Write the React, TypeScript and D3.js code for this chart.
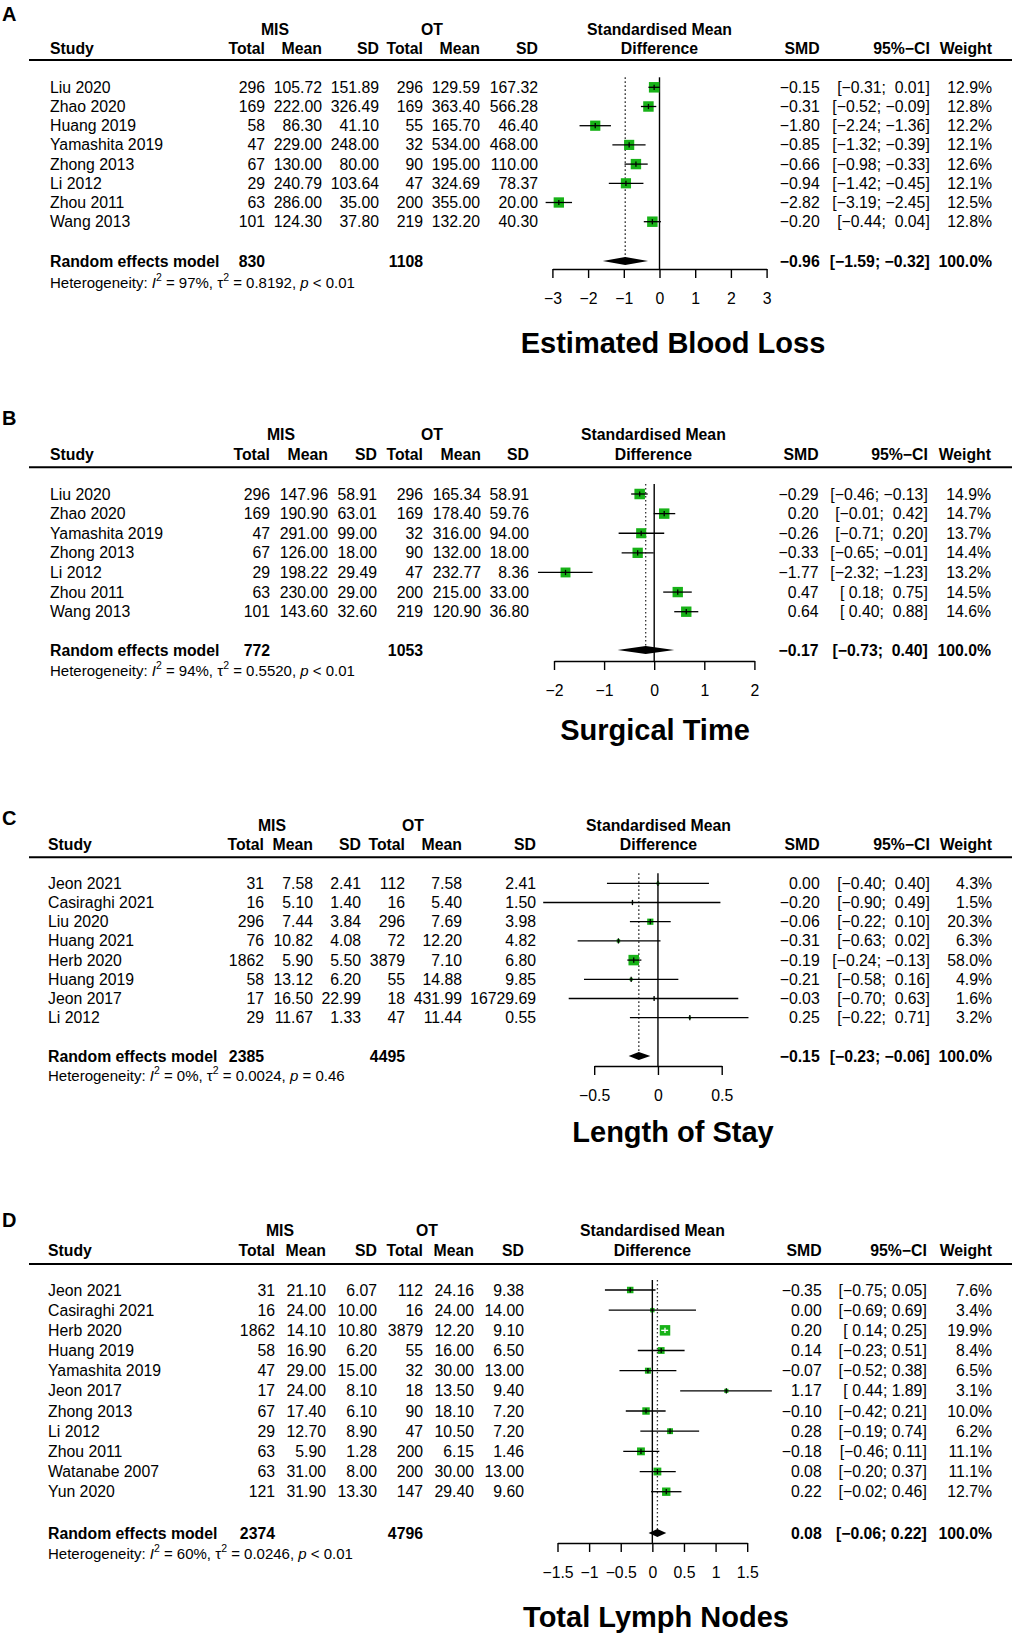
import React, { useRef, useEffect } from "react";
import * as d3 from "d3";

const fontFamily = "'Liberation Sans', Arial, Helvetica, sans-serif";
const fontSize = 15.8; // table text
const hetSize = 15; // heterogeneity line
const titleSize = 29; // panel title under the axis
const squareColor = "#17b217";
const maxSquare = 10.5; // side of the largest square, px

// ---------- A: Estimated Blood Loss ----------
const eblStudy = ["Liu 2020", "Zhao 2020", "Huang 2019", "Yamashita 2019", "Zhong 2013", "Li 2012", "Zhou 2011", "Wang 2013"];
const eblMisTotal = [296, 169, 58, 47, 67, 29, 63, 101];
const eblMisMean = [105.72, 222.0, 86.3, 229.0, 130.0, 240.79, 286.0, 124.3];
const eblMisSd = [151.89, 326.49, 41.1, 248.0, 80.0, 103.64, 35.0, 37.8];
const eblOtTotal = [296, 169, 55, 32, 90, 47, 200, 219];
const eblOtMean = [129.59, 363.4, 165.7, 534.0, 195.0, 324.69, 355.0, 132.2];
const eblOtSd = [167.32, 566.28, 46.4, 468.0, 110.0, 78.37, 20.0, 40.3];
const eblSmd = [-0.15, -0.31, -1.8, -0.85, -0.66, -0.94, -2.82, -0.2];
const eblLower = [-0.31, -0.52, -2.24, -1.32, -0.98, -1.42, -3.19, -0.44];
const eblUpper = [0.01, -0.09, -1.36, -0.39, -0.33, -0.45, -2.45, 0.04];
const eblWeight = [12.9, 12.8, 12.2, 12.1, 12.6, 12.1, 12.5, 12.8];
const eblPooled: [number, number, number] = [-0.96, -1.59, -0.32];
const eblTotals: [number, number] = [830, 1108];
const eblTicks = [-3, -2, -1, 0, 1, 2, 3];

// ---------- B: Surgical Time ----------
const stStudy = ["Liu 2020", "Zhao 2020", "Yamashita 2019", "Zhong 2013", "Li 2012", "Zhou 2011", "Wang 2013"];
const stMisTotal = [296, 169, 47, 67, 29, 63, 101];
const stMisMean = [147.96, 190.9, 291.0, 126.0, 198.22, 230.0, 143.6];
const stMisSd = [58.91, 63.01, 99.0, 18.0, 29.49, 29.0, 32.6];
const stOtTotal = [296, 169, 32, 90, 47, 200, 219];
const stOtMean = [165.34, 178.4, 316.0, 132.0, 232.77, 215.0, 120.9];
const stOtSd = [58.91, 59.76, 94.0, 18.0, 8.36, 33.0, 36.8];
const stSmd = [-0.29, 0.2, -0.26, -0.33, -1.77, 0.47, 0.64];
const stLower = [-0.46, -0.01, -0.71, -0.65, -2.32, 0.18, 0.4];
const stUpper = [-0.13, 0.42, 0.2, -0.01, -1.23, 0.75, 0.88];
const stWeight = [14.9, 14.7, 13.7, 14.4, 13.2, 14.5, 14.6];
const stPooled: [number, number, number] = [-0.17, -0.73, 0.4];
const stTotals: [number, number] = [772, 1053];
const stTicks = [-2, -1, 0, 1, 2];

// ---------- C: Length of Stay ----------
const losStudy = ["Jeon 2021", "Casiraghi 2021", "Liu 2020", "Huang 2021", "Herb 2020", "Huang 2019", "Jeon 2017", "Li 2012"];
const losMisTotal = [31, 16, 296, 76, 1862, 58, 17, 29];
const losMisMean = [7.58, 5.1, 7.44, 10.82, 5.9, 13.12, 16.5, 11.67];
const losMisSd = [2.41, 1.4, 3.84, 4.08, 5.5, 6.2, 22.99, 1.33];
const losOtTotal = [112, 16, 296, 72, 3879, 55, 18, 47];
const losOtMean = [7.58, 5.4, 7.69, 12.2, 7.1, 14.88, 431.99, 11.44];
const losOtSd = [2.41, 1.5, 3.98, 4.82, 6.8, 9.85, 16729.69, 0.55];
const losSmd = [0.0, -0.2, -0.06, -0.31, -0.19, -0.21, -0.03, 0.25];
const losLower = [-0.4, -0.9, -0.22, -0.63, -0.24, -0.58, -0.7, -0.22];
const losUpper = [0.4, 0.49, 0.1, 0.02, -0.13, 0.16, 0.63, 0.71];
const losWeight = [4.3, 1.5, 20.3, 6.3, 58.0, 4.9, 1.6, 3.2];
const losPooled: [number, number, number] = [-0.15, -0.23, -0.06];
const losTotals: [number, number] = [2385, 4495];
const losTicks = [-0.5, 0, 0.5];

// ---------- D: Total Lymph Nodes ----------
const tlnStudy = ["Jeon 2021", "Casiraghi 2021", "Herb 2020", "Huang 2019", "Yamashita 2019", "Jeon 2017", "Zhong 2013", "Li 2012", "Zhou 2011", "Watanabe 2007", "Yun 2020"];
const tlnMisTotal = [31, 16, 1862, 58, 47, 17, 67, 29, 63, 63, 121];
const tlnMisMean = [21.1, 24.0, 14.1, 16.9, 29.0, 24.0, 17.4, 12.7, 5.9, 31.0, 31.9];
const tlnMisSd = [6.07, 10.0, 10.8, 6.2, 15.0, 8.1, 6.1, 8.9, 1.28, 8.0, 13.3];
const tlnOtTotal = [112, 16, 3879, 55, 32, 18, 90, 47, 200, 200, 147];
const tlnOtMean = [24.16, 24.0, 12.2, 16.0, 30.0, 13.5, 18.1, 10.5, 6.15, 30.0, 29.4];
const tlnOtSd = [9.38, 14.0, 9.1, 6.5, 13.0, 9.4, 7.2, 7.2, 1.46, 13.0, 9.6];
const tlnSmd = [-0.35, 0.0, 0.2, 0.14, -0.07, 1.17, -0.1, 0.28, -0.18, 0.08, 0.22];
const tlnLower = [-0.75, -0.69, 0.14, -0.23, -0.52, 0.44, -0.42, -0.19, -0.46, -0.2, -0.02];
const tlnUpper = [0.05, 0.69, 0.25, 0.51, 0.38, 1.89, 0.21, 0.74, 0.11, 0.37, 0.46];
const tlnWeight = [7.6, 3.4, 19.9, 8.4, 6.5, 3.1, 10.0, 6.2, 11.1, 11.1, 12.7];
const tlnPooled: [number, number, number] = [0.08, -0.06, 0.22];
const tlnTotals: [number, number] = [2374, 4796];
const tlnTicks = [-1.5, -1, -0.5, 0, 0.5, 1, 1.5];

interface PanelData {
  title: string;
  study: string[];
  cols: number[][]; // misTotal, misMean, misSd, otTotal, otMean, otSd
  smd: number[];
  lower: number[];
  upper: number[];
  weight: number[];
  pooled: [number, number, number];
  totals: [number, number];
  het: [string, string, string]; // I2, tau2, p-part
  domain: [number, number];
  ticks: number[];
}

interface PanelLayout {
  label: string;
  labelY: number;
  head1Y: number;
  head2Y: number;
  lineY: number;
  firstRowY: number;
  lastRowY: number;
  pooledY: number;
  hetY: number;
  axisY: number;
  titleX: number;
  titleY: number;
  studyX: number;
  colX: number[];
  misX: number;
  otX: number;
  diffX: number;
  smdX: number;
  ciX: number;
  weightX: number;
  xRange: [number, number];
}

const panels: { d: PanelData; l: PanelLayout }[] = [
  {
    d: {
      title: "Estimated Blood Loss", study: eblStudy,
      cols: [eblMisTotal, eblMisMean, eblMisSd, eblOtTotal, eblOtMean, eblOtSd],
      smd: eblSmd, lower: eblLower, upper: eblUpper, weight: eblWeight,
      pooled: eblPooled, totals: eblTotals, het: ["97%", "0.8192", "< 0.01"],
      domain: [-3, 3], ticks: eblTicks,
    },
    l: {
      label: "A", labelY: 21, head1Y: 29, head2Y: 48.5, lineY: 60, firstRowY: 87.3, lastRowY: 221.7,
      pooledY: 261, hetY: 282, axisY: 269, titleX: 673, titleY: 343, studyX: 50,
      colX: [265, 322, 379, 423, 480, 538], misX: 275, otX: 432, diffX: 659.5, smdX: 819.7, ciX: 929.8, weightX: 992,
      xRange: [552.4, 766.6],
    },
  },
  {
    d: {
      title: "Surgical Time", study: stStudy,
      cols: [stMisTotal, stMisMean, stMisSd, stOtTotal, stOtMean, stOtSd],
      smd: stSmd, lower: stLower, upper: stUpper, weight: stWeight,
      pooled: stPooled, totals: stTotals, het: ["94%", "0.5520", "< 0.01"],
      domain: [-2, 2], ticks: stTicks,
    },
    l: {
      label: "B", labelY: 425, head1Y: 434.3, head2Y: 454, lineY: 467.3, firstRowY: 494, lastRowY: 611.7,
      pooledY: 650, hetY: 670, axisY: 661, titleX: 655, titleY: 730, studyX: 50,
      colX: [270, 328, 377, 423, 481, 529], misX: 281, otX: 432, diffX: 653.4, smdX: 818.6, ciX: 927.8, weightX: 991,
      xRange: [554, 754.4],
    },
  },
  {
    d: {
      title: "Length of Stay", study: losStudy,
      cols: [losMisTotal, losMisMean, losMisSd, losOtTotal, losOtMean, losOtSd],
      smd: losSmd, lower: losLower, upper: losUpper, weight: losWeight,
      pooled: losPooled, totals: losTotals, het: ["0%", "0.0024", "= 0.46"],
      domain: [-0.5, 0.5], ticks: losTicks,
    },
    l: {
      label: "C", labelY: 825, head1Y: 825, head2Y: 844, lineY: 857.3, firstRowY: 883.3, lastRowY: 1017.7,
      pooledY: 1056, hetY: 1075, axisY: 1066, titleX: 673, titleY: 1132, studyX: 48,
      colX: [264, 313, 361, 405, 462, 536], misX: 272, otX: 413, diffX: 658.5, smdX: 819.7, ciX: 929.8, weightX: 992,
      xRange: [594.2, 721.7],
    },
  },
  {
    d: {
      title: "Total Lymph Nodes", study: tlnStudy,
      cols: [tlnMisTotal, tlnMisMean, tlnMisSd, tlnOtTotal, tlnOtMean, tlnOtSd],
      smd: tlnSmd, lower: tlnLower, upper: tlnUpper, weight: tlnWeight,
      pooled: tlnPooled, totals: tlnTotals, het: ["60%", "0.0246", "< 0.01"],
      domain: [-1.5, 1.5], ticks: tlnTicks,
    },
    l: {
      label: "D", labelY: 1227, head1Y: 1230, head2Y: 1250, lineY: 1264, firstRowY: 1290, lastRowY: 1491.7,
      pooledY: 1533, hetY: 1553, axisY: 1543, titleX: 656, titleY: 1617, studyX: 48,
      colX: [275, 326, 377, 423, 474, 524], misX: 280, otX: 427, diffX: 652.4, smdX: 821.7, ciX: 926.8, weightX: 992,
      xRange: [557.5, 747.2],
    },
  },
];

const minus = (s: string) => s.replace("-", "\u2212");
const fmt2 = (v: number) => minus(v.toFixed(2));
const fmtCol = (v: number, j: number) => (j === 0 || j === 3 ? String(v) : v.toFixed(2));

const T = ({ x, y, anchor = "end", bold = false, size = fontSize, children }: any) => (
  <text
    x={x}
    y={y}
    textAnchor={anchor}
    dominantBaseline="central"
    fontWeight={bold ? "bold" : "normal"}
    fontSize={size}
    xmlSpace="preserve"
    style={{ whiteSpace: "pre" }}
  >
    {children}
  </text>
);

const ForestPanel = ({ d, l }: { d: PanelData; l: PanelLayout }) => {
  const axisRef = useRef<SVGGElement>(null);
  const x = d3.scaleLinear().domain(d.domain).range(l.xRange);
  const y = d3.scaleLinear().domain([0, d.study.length - 1]).range([l.firstRowY, l.lastRowY]);
  const side = d3.scaleSqrt().domain([0, d3.max(d.weight) || 1]).range([0, maxSquare]);

  // R pads lower / upper columns to a common width
  const lowStr = [...d.lower, d.pooled[1]].map(fmt2);
  const upStr = [...d.upper, d.pooled[2]].map(fmt2);
  const lw = d3.max(lowStr, (s) => s.length) || 0;
  const uw = d3.max(upStr, (s) => s.length) || 0;
  const ci = (i: number) => `[${lowStr[i].padStart(lw)}; ${upStr[i].padStart(uw)}]`;
  const n = d.study.length;
  const topY = l.firstRowY - 10;

  useEffect(() => {
    if (!axisRef.current) return;
    const g = d3.select(axisRef.current);
    g.call(
      d3
        .axisBottom(x)
        .tickValues(d.ticks)
        .tickSizeOuter(0)
        .tickSizeInner(9)
        .tickPadding(14.5)
        .tickFormat(d3.format("") as never) as never
    );
    g.attr("font-family", fontFamily).attr("font-size", fontSize);
    g.select(".domain").attr("stroke-width", 1.4);
    g.selectAll(".tick line").attr("stroke-width", 1.4);
  }, [d]);

  return (
    <g>
      <text x={2} y={l.labelY} fontWeight="bold" fontSize={20}>
        {l.label}
      </text>
      {/* header */}
      <T x={l.misX} y={l.head1Y} anchor="middle" bold>MIS</T>
      <T x={l.otX} y={l.head1Y} anchor="middle" bold>OT</T>
      <T x={l.diffX} y={l.head1Y} anchor="middle" bold>Standardised Mean</T>
      <T x={l.studyX} y={l.head2Y} anchor="start" bold>Study</T>
      {["Total", "Mean", "SD", "Total", "Mean", "SD"].map((h, j) => (
        <T key={j} x={l.colX[j]} y={l.head2Y} bold>{h}</T>
      ))}
      <T x={l.diffX} y={l.head2Y} anchor="middle" bold>Difference</T>
      <T x={l.smdX} y={l.head2Y} bold>SMD</T>
      <T x={l.ciX} y={l.head2Y} bold>{"95%\u2212CI"}</T>
      <T x={l.weightX} y={l.head2Y} bold>Weight</T>
      <line x1={29} x2={1012} y1={l.lineY} y2={l.lineY} stroke="#000" strokeWidth={2} />

      {/* study rows */}
      {d.study.map((s, i) => (
        <g key={s + i}>
          <T x={l.studyX} y={y(i)} anchor="start">{s}</T>
          {d.cols.map((c, j) => (
            <T key={j} x={l.colX[j]} y={y(i)}>{fmtCol(c[i], j)}</T>
          ))}
          <T x={l.smdX} y={y(i)}>{fmt2(d.smd[i])}</T>
          <T x={l.ciX} y={y(i)}>{ci(i)}</T>
          <T x={l.weightX} y={y(i)}>{d.weight[i].toFixed(1) + "%"}</T>
        </g>
      ))}

      {/* pooled row */}
      <T x={l.studyX} y={l.pooledY} anchor="start" bold>Random effects model</T>
      <T x={l.colX[0]} y={l.pooledY} bold>{String(d.totals[0])}</T>
      <T x={l.colX[3]} y={l.pooledY} bold>{String(d.totals[1])}</T>
      <T x={l.smdX} y={l.pooledY} bold>{fmt2(d.pooled[0])}</T>
      <T x={l.ciX} y={l.pooledY} bold>{ci(n)}</T>
      <T x={l.weightX} y={l.pooledY} bold>100.0%</T>
      <text x={l.studyX} y={l.hetY} dominantBaseline="central" fontSize={hetSize} xmlSpace="preserve" style={{ whiteSpace: "pre" }}>
        <tspan>Heterogeneity: </tspan>
        <tspan fontStyle="italic">I</tspan>
        <tspan dy={-5} fontSize={10.5}>2</tspan>
        <tspan dy={5}>{` = ${d.het[0]}, \u03c4`}</tspan>
        <tspan dy={-5} fontSize={10.5}>2</tspan>
        <tspan dy={5}>{` = ${d.het[1]}, `}</tspan>
        <tspan fontStyle="italic">p</tspan>
        <tspan>{` ${d.het[2]}`}</tspan>
      </text>

      {/* forest */}
      <line x1={x(0)} x2={x(0)} y1={topY} y2={l.axisY} stroke="#000" strokeWidth={1.4} />
      <line
        x1={x(d.pooled[0])}
        x2={x(d.pooled[0])}
        y1={topY}
        y2={l.pooledY}
        stroke="#333"
        strokeWidth={1.3}
        strokeDasharray="1.6,2.4"
      />
      {d.study.map((s, i) => {
        const sz = side(d.weight[i]);
        const inside = x(d.upper[i]) - x(d.lower[i]) < sz;
        const lc = inside ? "#fff" : "#000";
        return (
          <g key={"m" + i}>
            <rect x={x(d.smd[i]) - sz / 2} y={y(i) - sz / 2} width={sz} height={sz} fill={squareColor} />
            <line x1={x(d.lower[i])} x2={x(d.upper[i])} y1={y(i)} y2={y(i)} stroke={lc} strokeWidth={1.3} />
            <line x1={x(d.smd[i])} x2={x(d.smd[i])} y1={y(i) - 2.6} y2={y(i) + 2.6} stroke={lc} strokeWidth={1.3} />
          </g>
        );
      })}
      <polygon
        points={[
          [x(d.pooled[1]), l.pooledY],
          [x(d.pooled[0]), l.pooledY - 4],
          [x(d.pooled[2]), l.pooledY],
          [x(d.pooled[0]), l.pooledY + 4],
        ]
          .map((p) => p.join(","))
          .join(" ")}
        fill="#000"
      />
      <g ref={axisRef} transform={`translate(0, ${l.axisY})`}></g>
      <T x={l.titleX} y={l.titleY} anchor="middle" bold size={titleSize}>{d.title}</T>
    </g>
  );
};

const App = () => (
  <svg
    width={1013}
    height={1637}
    style={{ position: "absolute", left: 0, top: 0, background: "#fff" }}
    fontFamily={fontFamily}
  >
    <rect width={1013} height={1637} fill="#fff" />
    {panels.map((p) => (
      <ForestPanel key={p.l.label} d={p.d} l={p.l} />
    ))}
  </svg>
);

export default App;
